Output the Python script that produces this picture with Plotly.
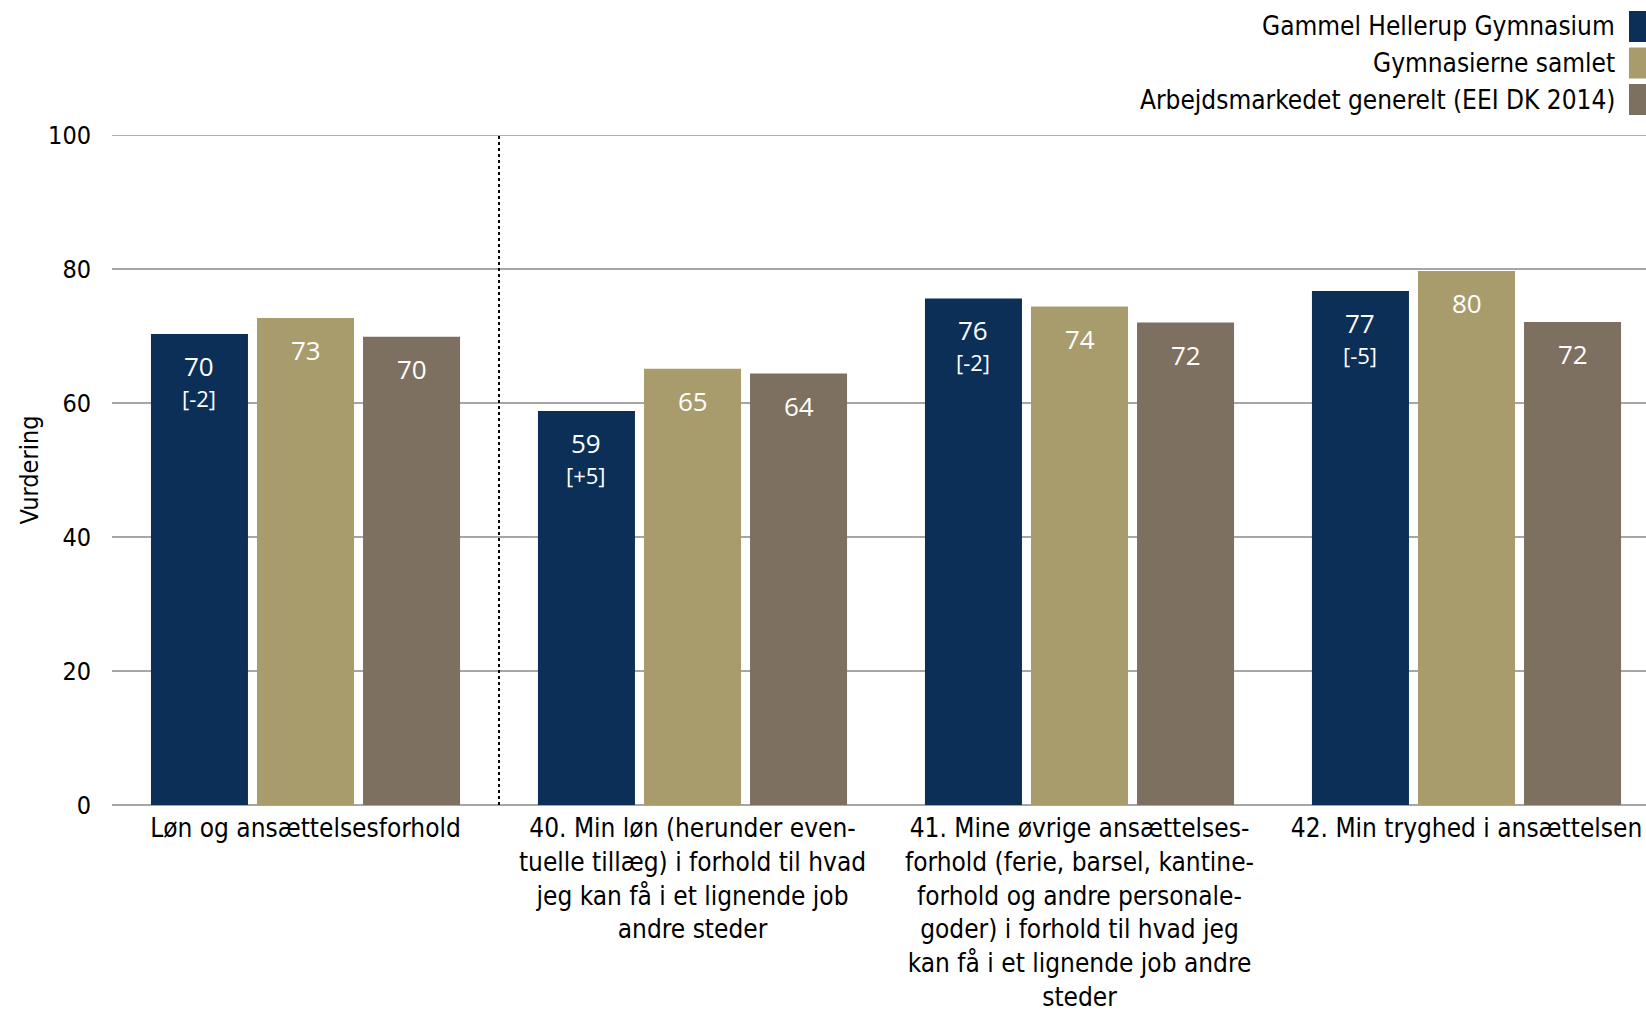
import plotly.graph_objects as go

categories = [
    "Løn og ansættelsesforhold",
    "40. Min løn (herunder even-<br>tuelle tillæg) i forhold til hvad<br>jeg kan få i et lignende job<br>andre steder",
    "41. Mine øvrige ansættelses-<br>forhold (ferie, barsel, kantine-<br>forhold og andre personale-<br>goder) i forhold til hvad jeg<br>kan få i et lignende job andre<br>steder",
    "42. Min tryghed i ansættelsen",
]
series_names = [
    "Gammel Hellerup Gymnasium",
    "Gymnasierne samlet",
    "Arbejdsmarkedet generelt (EEI DK 2014)",
]
ghg = [70.3, 58.8, 75.6, 76.7]
samlet = [72.7, 65.1, 74.4, 79.7]
eei = [69.9, 64.4, 72.0, 72.1]
ghg_change = ["[-2]", "[+5]", "[-2]", "[-5]"]
colors = ["#0C2F57", "#A99C6C", "#7D7060"]

W, H = 1646, 1012
ML, MT, MB = 112, 135, 207
plot_w = W - ML
plot_h = H - MT - MB

TXT_FONT = "DejaVu Sans Condensed, Liberation Sans, sans-serif"
LBL_FONT = "Open Sans, Noto Sans, sans-serif"

bargap = 0.178
bargroupgap = 0.085
slot = (1 - bargap) / 3

fig = go.Figure()
all_series = [ghg, samlet, eei]
for name, vals, col in zip(series_names, all_series, colors):
    fig.add_trace(go.Bar(x=categories, y=vals, name=name, marker_color=col,
                         marker_line_width=0, showlegend=False, hoverinfo="y"))

annotations = []
idx = list(range(len(categories)))
for s, vals in enumerate(all_series):
    off = (s - 1) * slot
    for i, v in zip(idx, vals):
        annotations.append(dict(x=i + off, y=v, xref="x", yref="y", text=str(int(round(v))),
                                showarrow=False, yanchor="middle", yshift=-32,
                                font=dict(family=LBL_FONT, size=26, color="white")))
        if s == 0:
            annotations.append(dict(x=i + off, y=v, xref="x", yref="y", text=ghg_change[i],
                                    showarrow=False, yanchor="middle", yshift=-64,
                                    font=dict(family=LBL_FONT, size=22, color="white")))

def px_x(px):
    return (px - ML) / plot_w

def px_y(py):
    return (H - MB - py) / plot_h

shapes = []
row_centers = [26.5, 63, 99.5]
for name, col, yc in zip(series_names, colors, row_centers):
    annotations.append(dict(x=px_x(1617), y=px_y(yc), xref="paper", yref="paper", text=name,
                            showarrow=False, xanchor="right", yanchor="middle",
                            font=dict(family=TXT_FONT, size=26, color="black")))
    shapes.append(dict(type="rect", xref="paper", yref="paper",
                       x0=px_x(1629), x1=px_x(1662), y0=px_y(yc + 15.5), y1=px_y(yc - 15.5),
                       fillcolor=col, line_width=0, layer="above"))

# top gridline (darker) and dotted separator
shapes.append(dict(type="line", xref="paper", yref="y", x0=0, x1=1.02, y0=100, y1=100,
                   line=dict(color="#606060", width=1.2), layer="above"))
shapes.append(dict(type="line", xref="x", yref="y", x0=0.5, x1=0.5, y0=0, y1=101.2,
                   line=dict(color="black", width=2, dash="dot"), layer="above"))

fig.update_layout(
    width=W, height=H,
    margin=dict(l=ML, r=0, t=MT, b=MB),
    paper_bgcolor="white", plot_bgcolor="white",
    barmode="group", bargap=bargap, bargroupgap=bargroupgap,
    showlegend=False,
    annotations=annotations, shapes=shapes,
    font=dict(family=TXT_FONT, size=25, color="black"),
)
fig.update_xaxes(range=[-0.5, -0.5 + plot_w / 387.0], showgrid=False, zeroline=False,
                 showline=False, ticks="", ticklabelstandoff=5,
                 tickfont=dict(family=TXT_FONT, size=26, color="black"),
                 tickangle=0, automargin=False)
fig.update_yaxes(range=[0, 100], dtick=20, showgrid=True, gridcolor="#A6A6A6", gridwidth=1.5,
                 zeroline=True, zerolinecolor="#A6A6A6", zerolinewidth=1.5,
                 showline=False, ticks="", ticklabelstandoff=20,
                 tickfont=dict(family=TXT_FONT, size=25, color="black"),
                 title=dict(text="Vurdering", standoff=2, font=dict(family=TXT_FONT, size=25, color="black")),
                 automargin=False)

fig.write_html("out.html", config={"displayModeBar": False},
               post_script="document.body.style.margin='0';document.body.style.overflow='hidden';")
